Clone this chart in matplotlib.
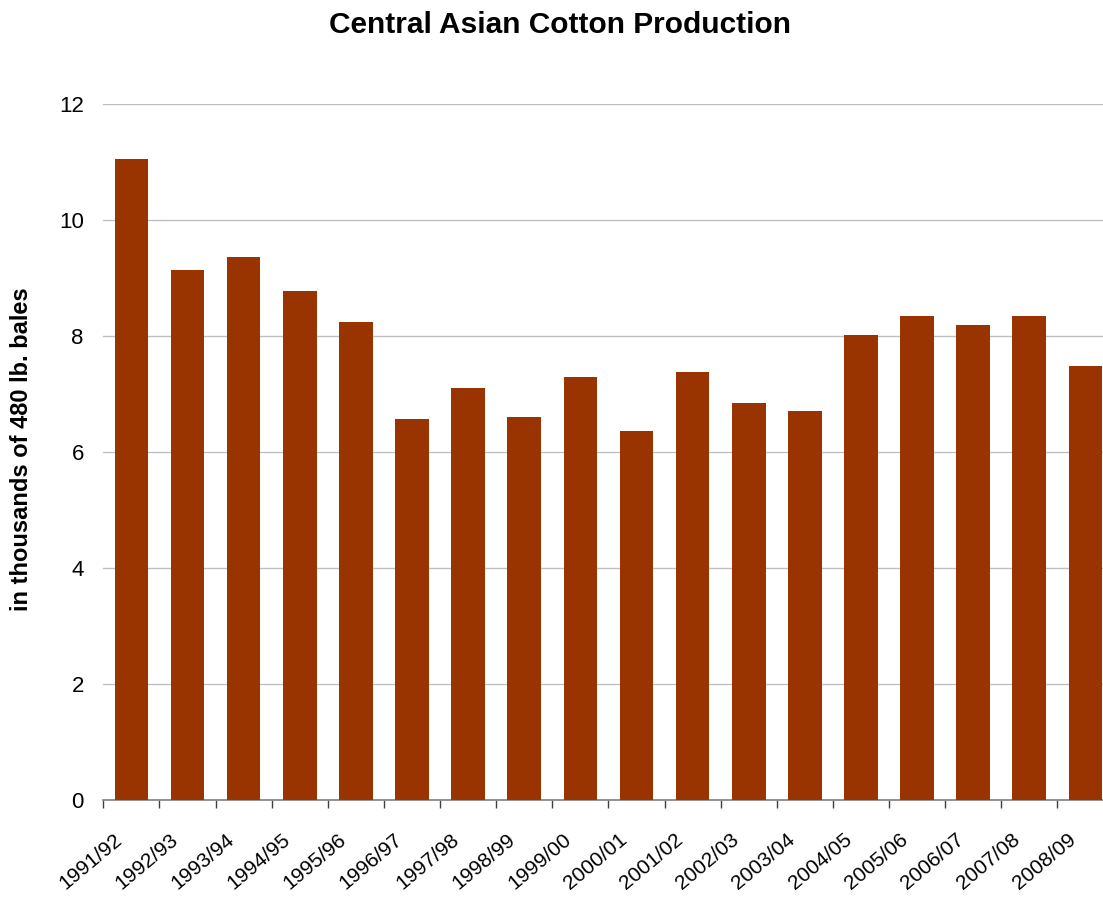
import matplotlib
matplotlib.use("Agg")
import matplotlib.pyplot as plt
import numpy as np

seasons = ["1991/92", "1992/93", "1993/94", "1994/95", "1995/96", "1996/97",
           "1997/98", "1998/99", "1999/00", "2000/01", "2001/02", "2002/03",
           "2003/04", "2004/05", "2005/06", "2006/07", "2007/08", "2008/09"]
production = [11.05, 9.14, 9.36, 8.78, 8.24, 6.57, 7.10, 6.60, 7.29, 6.36,
              7.38, 6.84, 6.71, 8.02, 8.34, 8.19, 8.34, 7.48]
yticks = [0, 2, 4, 6, 8, 10, 12]

plt.rcParams["font.family"] = ["Liberation Sans", "DejaVu Sans"]

W, H = 1103, 898
fig = plt.figure(figsize=(W / 100, H / 100), dpi=100)
left, right, bottom, top = 103.3, 1113.5, 800, 104
ax = fig.add_axes([left / W, (H - bottom) / H, (right - left) / W, (bottom - top) / H])

x = np.arange(len(seasons))
ax.bar(x, production, width=0.6, color="#993300", zorder=3)

ax.set_xlim(-0.5, len(seasons) - 0.5)
ax.set_ylim(0, 12)
ax.set_yticks(yticks)
ax.set_yticklabels([str(v) for v in yticks], fontsize=16)
ax.tick_params(axis="y", length=0, pad=14)
ax.yaxis.grid(True, color="#c0c0c0", linewidth=1.0, zorder=0)
ax.set_axisbelow(True)

# category boundary ticks, labels centred on each category
ax.set_xticks(np.arange(len(seasons) + 1) - 0.5)
ax.set_xticklabels([])
ax.tick_params(axis="x", length=6, width=1, color="#404040", direction="out")
for i, s in enumerate(seasons):
    ax.annotate(s, xy=(i, 0), xycoords=("data", "axes fraction"),
                xytext=(-18, -30), textcoords="offset pixels",
                rotation=40, ha="right", va="top", rotation_mode="anchor",
                fontsize=15, annotation_clip=False)

for side in ("left", "right", "top"):
    ax.spines[side].set_visible(False)
ax.spines["bottom"].set_color("#808080")
ax.spines["bottom"].set_linewidth(1.2)

fig.text(560 / W, 1 - 25 / H, "Central Asian Cotton Production", ha="center",
         va="center", fontsize=21.5, fontweight="bold")
fig.text(22 / W, 1 - 449 / H, "in thousands of 480 lb. bales", ha="center",
         va="center", rotation=90, fontsize=17, fontweight="bold")

fig.savefig("out.png", dpi=100)
